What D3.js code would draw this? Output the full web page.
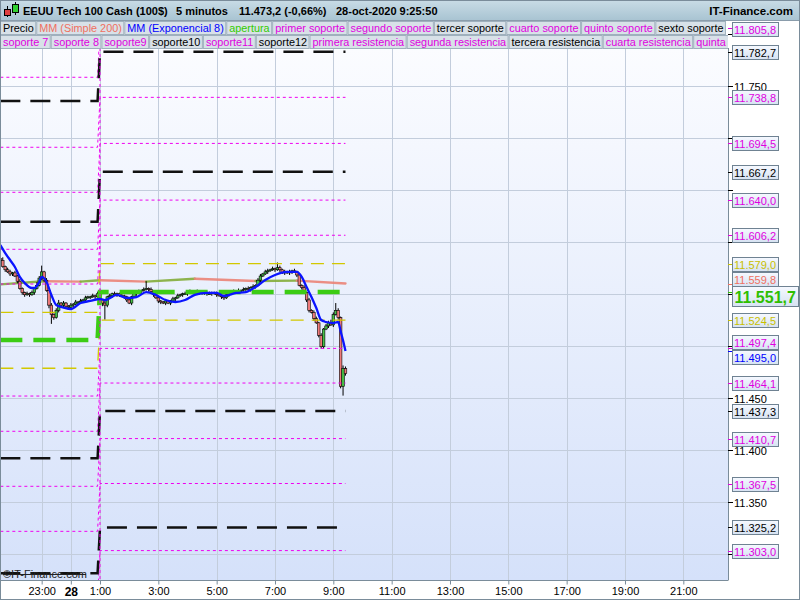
<!DOCTYPE html>
<html><head><meta charset="utf-8">
<script src="https://cdn.jsdelivr.net/npm/d3@7/dist/d3.min.js"></script>
<style>body{margin:0;background:#fff}svg{display:block;font-family:"Liberation Sans",Arial,sans-serif}</style>
</head><body><svg id="c" width="800" height="600"></svg>
<script>
// ---------------- DATA ----------------
const barStart = new Date(2020, 9, 27, 21, 35);   // first 5-minute bar
const barMinutes = 5;
const firstOpen = 11584;
const closes = [
11582,11576,11573,11571,11569,11570,11567,11562,11555,11551,
11549,11550,11549,11551,11555,11558,11565,11571,11563,11553,
11539,11530,11527,11534,11541,11539,11541,11538,11537,11539,
11540,11542,11542,11543,11544,11546,11547,11547,11548,11547,
11550,11544,11541,11539,11547,11548,11550,11549,11550,11548,
11548,11547,11544,11541,11547,11550,11551,11552,11553,11554,
11555,11554,11552,11549,11546,11543,11542,11541,11543,11541,
11543,11545,11546,11548,11549,11550,11550,11551,11552,11552,
11551,11552,11551,11550,11551,11550,11550,11551,11550,11549,
11548,11547,11546,11549,11551,11551,11552,11552,11553,11553,
11554,11555,11554,11556,11557,11558,11563,11567,11569,11571,
11572,11573,11574,11573,11575,11573,11570,11571,11570,11571,
11572,11571,11568,11558,11556,11551,11544,11534,11532,11526,
11522,11510,11499,11516,11519,11522,11520,11530,11534,11527,
11461,11478,11473.2];
const wickUp = [
2,3,1,2,2,1,2,1,2,1, 1,2,1,2,1,3,2,6,1,2, 1,2,1,2,3,1,2,1,1,2, 1,2,1,2,1,2,1,1,2,1,
2,4,1,2,1,2,1,2,1,1, 2,1,1,2,1,2,1,2,1,2, 7,1,2,1,1,2,1,1,2,1, 1,2,1,2,1,1,2,1,2,1,
1,2,1,1,2,1,2,1,1,2, 1,1,2,1,2,1,2,1,2,1, 2,1,2,1,2,1,2,2,1,2, 2,1,2,1,5,2,1,2,1,2,
1,2,1,2,1,2,1,2,1,2, 2,1,2,1,2,2,3,2,7,2, 1,3,2];
const wickDown = [
2,1,2,1,2,2,1,2,1,2, 2,1,2,1,2,1,1,2,2,1, 3,9,2,1,2,1,2,1,2,1, 2,1,2,1,1,2,1,2,1,2,
1,2,3,14,2,1,2,1,2,1, 1,2,2,1,2,1,2,1,2,1, 1,2,1,2,1,2,2,1,2,1, 2,1,2,1,1,2,1,2,1,1,
2,1,2,1,1,2,1,2,1,2, 1,2,2,1,2,1,1,2,1,2, 1,2,1,2,1,2,1,2,1,1, 2,1,1,2,1,2,1,2,1,2,
2,1,2,1,2,1,2,2,1,2, 1,2,2,2,1,2,1,2,1,2, 2,9,2];

// MM (Exponencial 8) (bar index, value)
const emaIdx = [0,2,4,6,8,10,13,14,16,17,19,21,23,26,29,33,37,41,43,48,52,56,60,64,68,72,76,80,85,89,92,97,101,105,109,113,118,122,124,126,128,130,132,134,137,139,140,141,142];
const emaVal = [11596.8,11589.1,11582.4,11575.7,11566.1,11560.3,11555.5,11555.5,11561.3,11566.1,11561.3,11548.8,11539.1,11536.7,11535.3,11541.1,11543.0,11544.9,11543.9,11548.8,11545.9,11546.8,11551.6,11548.8,11543.9,11542.0,11543.9,11548.8,11550.7,11550.7,11547.8,11550.7,11551.6,11556.4,11563.2,11568.0,11570.9,11570.9,11566.1,11556.4,11546.8,11536.2,11524.7,11522.8,11521.8,11522.8,11514,11505,11495.0];
// MM (Simple 200) (bar index, value)
const smaIdx = [0,18,33,41,60,80,105,122,142];
const smaVal = [11559,11562,11561.6,11563,11561.6,11564.4,11562.2,11562.6,11559.8];

// Support / resistance levels: previous session value -> current session value
const sessionBar = 41; // 1:00
const blackPrev   = [11735.3,11619.2,11391.7,11281.2];
const blackCur    = [11782.7,11667.2,11437.3,11325.2];
const magentaPrev = [11758.1,11690.8,11647.5,11592.7,11559.3,11451.6,11417.7,11364.8,11321.5,11257.0];
const magentaCur  = [11805.8,11738.8,11694.5,11640.0,11606.2,11497.4,11464.1,11410.7,11367.5,11303.0];
const yellowPrev  = [11532.1,11478.3];
const yellowCur   = [11579.0,11524.5];
const openPrev    = [11505.5];
const openCur     = [11551.7];

const priceTicks = [11300,11350,11400,11450,11500,11550,11600,11650,11700,11750,11800];
const timeTicks = [new Date(2020,9,27,23,0), new Date(2020,9,28,0,0), new Date(2020,9,28,1,0),
  new Date(2020,9,28,3,0), new Date(2020,9,28,5,0), new Date(2020,9,28,7,0), new Date(2020,9,28,9,0),
  new Date(2020,9,28,11,0), new Date(2020,9,28,13,0), new Date(2020,9,28,15,0), new Date(2020,9,28,17,0),
  new Date(2020,9,28,19,0), new Date(2020,9,28,21,0)];

const titleParts = ["EEUU Tech 100 Cash (100$)", "5 minutos", "11.473,2 (-0,66%)", "28-oct-2020 9:25:50"];
const brand = "IT-Finance.com";
const legendRow1 = ["Precio","MM (Simple 200)","MM (Exponencial 8)","apertura","primer soporte","segundo soporte","tercer soporte","cuarto soporte","quinto soporte","sexto soporte"];
const legendRow1Colors = ["#000","#f07060","#0000ff","#33cc00","#e000e0","#e000e0","#000","#e000e0","#e000e0","#000"];
const legendRow2 = ["soporte 7","soporte 8","soporte9","soporte10","soporte11","soporte12","primera resistencia","segunda resistencia","tercera resistencia","cuarta resistencia","quinta resistencia"];
const legendRow2Colors = ["#e000e0","#e000e0","#e000e0","#000","#e000e0","#000","#e000e0","#e000e0","#000","#e000e0","#e000e0"];

// ---------------- CHART ----------------
const svg = d3.select("#c");
const W = 800, H = 600, PL = 0, PR = 728, PT = 48, PB = 580;
const loc = d3.formatLocale({decimal: ",", thousands: ".", grouping: [3], currency: ["", ""]});
const f1 = loc.format(",.1f"), f0 = loc.format(",.0f");

const x = d3.scaleTime()
  .domain([new Date(2020,9,27,21,34,17), new Date(2020,9,28,22,31,55)])
  .range([PL, PR]);
const y = d3.scaleLinear().domain([11350, 11450]).range([501.7, 397.7]);
const barTime = i => d3.timeMinute.offset(barStart, barMinutes * i);

const defs = svg.append("defs");
const bg = defs.append("linearGradient").attr("id","bg").attr("x1",0).attr("y1",0).attr("x2",0).attr("y2",1);
bg.append("stop").attr("offset","0%").attr("stop-color","#fbfcff");
bg.append("stop").attr("offset","100%").attr("stop-color","#d5e1fa");
const hd = defs.append("linearGradient").attr("id","hd").attr("x1",0).attr("y1",0).attr("x2",0).attr("y2",1);
hd.append("stop").attr("offset","0%").attr("stop-color","#c9dce6");
hd.append("stop").attr("offset","100%").attr("stop-color","#a9c4d2");
const lb = defs.append("linearGradient").attr("id","lb").attr("x1",0).attr("y1",0).attr("x2",0).attr("y2",1);
lb.append("stop").attr("offset","0%").attr("stop-color","#f6f9ff");
lb.append("stop").attr("offset","100%").attr("stop-color","#d6e2f2");
defs.append("clipPath").attr("id","plot").append("rect").attr("x",PL).attr("y",PT).attr("width",PR-PL).attr("height",PB-PT);
defs.append("clipPath").attr("id","legclip").append("rect").attr("x",0).attr("y",20).attr("width",PR).attr("height",30);

svg.append("rect").attr("width",W).attr("height",H).attr("fill","#fff");
svg.append("rect").attr("x",PL).attr("y",PT).attr("width",PR-PL).attr("height",PB-PT).attr("fill","url(#bg)");

const plot = svg.append("g").attr("clip-path","url(#plot)");
// grid
plot.selectAll("line.hg").data(priceTicks).join("line")
  .attr("x1",PL).attr("x2",PR).attr("y1",d=>Math.round(y(d))+0.5).attr("y2",d=>Math.round(y(d))+0.5)
  .attr("stroke","#c3cddc").attr("stroke-width",1);
plot.selectAll("line.vg").data(timeTicks).join("line")
  .attr("y1",PT).attr("y2",PB).attr("x1",d=>Math.round(x(d))+0.5).attr("x2",d=>Math.round(x(d))+0.5)
  .attr("stroke","#c3cddc").attr("stroke-width",1);

// SMA 200
for (let k = 0; k < smaIdx.length - 1; k++) {
  const rising = smaVal[k+1] >= smaVal[k];
  plot.append("line")
    .attr("x1", x(barTime(smaIdx[k]))).attr("y1", y(smaVal[k]))
    .attr("x2", x(barTime(smaIdx[k+1]))).attr("y2", y(smaVal[k+1]))
    .attr("stroke", rising ? "#84ad3a" : "#ec8478").attr("stroke-width", 2.4)
    .attr("stroke-linecap","round").attr("opacity",0.9);
}

// candles
const bars = closes.map((c, i) => {
  const o = i === 0 ? firstOpen : closes[i-1];
  return {t: barTime(i), o, c, h: Math.max(o,c) + wickUp[i], l: Math.min(o,c) - wickDown[i]};
});
const cg = plot.append("g");
cg.selectAll("line").data(bars).join("line")
  .attr("x1",d=>x(d.t)).attr("x2",d=>x(d.t)).attr("y1",d=>y(d.h)).attr("y2",d=>y(d.l))
  .attr("stroke","#000").attr("stroke-width",1);
cg.selectAll("rect").data(bars).join("rect")
  .attr("x",d=>x(d.t)-1.3).attr("width",2.6)
  .attr("y",d=>y(Math.max(d.o,d.c))).attr("height",d=>Math.max(1,Math.abs(y(d.o)-y(d.c))))
  .attr("fill",d=>d.c>=d.o ? "#46c046" : "#f07b7b").attr("stroke","#000").attr("stroke-width",0.6);

// level lines
const lastBar = closes.length - 1;
const levelLine = d3.line().x(d=>x(d[0])).y(d=>y(d[1]));
function levels(prev, cur, color, width, dash) {
  prev.forEach((p, k) => {
    const pts = [[barTime(0),p],[barTime(sessionBar-1),p],[barTime(sessionBar),cur[k]],[barTime(lastBar),cur[k]]];
    plot.append("path").attr("d", levelLine(pts)).attr("fill","none")
      .attr("stroke",color).attr("stroke-width",width).attr("stroke-dasharray",dash);
  });
}
levels(magentaPrev, magentaCur, "#f000f0", 1, "3,3");
levels(yellowPrev, yellowCur, "#d2c800", 1.3, "13,8");
levels(blackPrev, blackCur, "#111", 2.5, "20,10");
levels(openPrev, openCur, "#3ccc14", 4.5, "22,11");

// session separator
plot.append("line").attr("x1",x(barTime(sessionBar))).attr("x2",x(barTime(sessionBar)))
  .attr("y1",PT).attr("y2",PB).attr("stroke","#f000f0").attr("stroke-width",1).attr("stroke-dasharray","3,3");

// EMA 8
plot.append("path")
  .attr("d", d3.line().x(d=>x(barTime(d))).y((d,i)=>y(emaVal[i])).curve(d3.curveMonotoneX)(emaIdx))
  .attr("fill","none").attr("stroke","#0a14ff").attr("stroke-width",2.3);

// borders
svg.append("line").attr("x1",PR+0.5).attr("x2",PR+0.5).attr("y1",PT).attr("y2",PB).attr("stroke","#7a8c9a");
svg.append("line").attr("x1",0).attr("x2",PR+0.5).attr("y1",PB+0.5).attr("y2",PB+0.5).attr("stroke","#7a8c9a");
svg.append("line").attr("x1",0.5).attr("x2",0.5).attr("y1",20).attr("y2",PB).attr("stroke","#5b6b78");

// x axis
const xAxis = d3.axisBottom(x).tickValues(timeTicks).tickSize(4).tickPadding(3)
  .tickFormat(d => d.getHours() === 0 ? d3.timeFormat("%-d")(d) : d3.timeFormat("%-H:%M")(d));
const ax = svg.append("g").attr("transform",`translate(0,${PB+0.5})`).call(xAxis);
ax.select(".domain").remove();
ax.selectAll(".tick line").attr("stroke","#7a8c9a");
ax.selectAll(".tick text").attr("fill","#000").attr("font-family",'"Liberation Sans",Arial,sans-serif')
  .attr("font-weight", d => d.getHours() === 0 ? "bold" : "normal")
  .attr("font-size", d => d.getHours() === 0 ? 12 : 11);

// footer watermark
svg.append("text").attr("x",3).attr("y",578).attr("font-size",11).attr("fill","#222").text("©IT-Finance.com");
svg.append("line").attr("x1",3).attr("x2",86).attr("y1",574.5).attr("y2",574.5).attr("stroke","#222");

// right axis: value labels in boxes (positions resolved first)
const labels = [];
magentaCur.forEach(v => labels.push({v, color:"#e000e0", tick:"#e000e0", h:14}));
blackCur.forEach(v => labels.push({v, color:"#000", tick:"#000", h:14}));
yellowCur.forEach(v => labels.push({v, color:"#c8c000", tick:"#c8c000", h:14}));
labels.push({v: smaVal[smaVal.length-1], color:"#f07060", tick:"#f07060", h:14});
labels.push({v: emaVal[emaVal.length-1], color:"#0000ff", tick:"#0000ff", h:14});
labels.push({v: openCur[0], color:"#2fbf00", tick:"#2fbf00", h:20, big:true});
labels.forEach(l => { l.y0 = y(l.v); l.y = Math.max(29, l.y0); });
labels.sort((a,b)=>a.y-b.y);
for (let it = 0; it < 60; it++) {
  for (let k = 0; k < labels.length-1; k++) {
    const a = labels[k], b = labels[k+1];
    const need = (a.h + b.h)/2 + 0.5;
    const gap = b.y - a.y;
    if (gap < need) { const d = (need-gap)/2; a.y -= d; b.y += d; }
  }
  labels[0].y = Math.max(29, labels[0].y);
}

// right axis: plain price labels (those hidden under a value box are left out)
const ra = svg.append("g");
priceTicks.forEach(v => {
  const yy = Math.round(y(v)) + 0.5;
  if (yy < 20 || yy > PB) return;
  ra.append("line").attr("x1",PR).attr("x2",PR+5).attr("y1",yy).attr("y2",yy).attr("stroke","#000");
  if (labels.some(l => Math.abs(l.y - yy) < 10)) return;
  ra.append("text").attr("x",PR+6).attr("y",yy).attr("dominant-baseline","central")
    .attr("font-size",11).attr("fill","#000").text(f0(v));
});
labels.forEach(l => {
  ra.append("line").attr("x1",PR).attr("x2",PR+4).attr("y1",Math.round(l.y0)+0.5).attr("y2",Math.round(l.y0)+0.5)
    .attr("stroke",l.tick).attr("stroke-width",1);
  const w = l.big ? 66 : 46;
  ra.append("rect").attr("x",732.5).attr("y",Math.round(l.y - l.h/2)+0.5).attr("width",w).attr("height",l.h)
    .attr("fill","url(#lb)").attr("stroke","#6f8292");
  ra.append("text").attr("x",l.big ? 734.5 : 734).attr("y",l.y+1).attr("dominant-baseline","central")
    .attr("font-size",l.big?16:11).attr("font-weight",l.big?"bold":"normal").attr("fill",l.color)
    .text(f1(l.v));
});

// header row
svg.append("rect").attr("x",0).attr("y",0).attr("width",W).attr("height",20).attr("fill","url(#hd)");
svg.append("line").attr("x1",0).attr("x2",W).attr("y1",20.5).attr("y2",20.5).attr("stroke","#8a9cab");
const icon = svg.append("g");
icon.append("line").attr("x1",7.5).attr("x2",7.5).attr("y1",6).attr("y2",17).attr("stroke","#000");
icon.append("rect").attr("x",4.5).attr("y",9.5).attr("width",6).attr("height",6).attr("fill","#e04040").attr("stroke","#000");
icon.append("line").attr("x1",15.5).attr("x2",15.5).attr("y1",2).attr("y2",15).attr("stroke","#000");
icon.append("rect").attr("x",12.5).attr("y",4.5).attr("width",6).attr("height",8).attr("fill","#30d030").attr("stroke","#000");
const titleX = [23, 176, 239, 336];
titleParts.forEach((t,k) => svg.append("text").attr("x",titleX[k]).attr("y",15).attr("font-size",11)
  .attr("font-weight","bold").attr("fill","#000").text(t));
svg.append("text").attr("x",793).attr("y",15).attr("text-anchor","end").attr("font-size",11.5)
  .attr("font-weight","bold").attr("fill","#000").text(brand);

// legend rows
const leg = svg.append("g").attr("clip-path","url(#legclip)");
function legendRow(names, colors, top) {
  let cx = 0.5;
  names.forEach((n, k) => {
    const g = leg.append("g");
    const r = g.append("rect").attr("x",cx).attr("y",top+0.5).attr("height",13).attr("fill","#d8e1e8").attr("stroke","#9fb0bd");
    const t = g.append("text").attr("x",cx+2.5).attr("y",top+11).attr("font-size",10.85).attr("fill",colors[k]).text(n);
    const w = t.node().getComputedTextLength() + 4.5;
    r.attr("width", w);
    cx += w + 1;
  });
}
legendRow(legendRow1, legendRow1Colors, 21);
legendRow(legendRow2, legendRow2Colors, 35);

// outer frame
svg.append("rect").attr("x",0.5).attr("y",0.5).attr("width",W-1).attr("height",H-1).attr("fill","none").attr("stroke","#7a8c9a");
</script></body></html>
